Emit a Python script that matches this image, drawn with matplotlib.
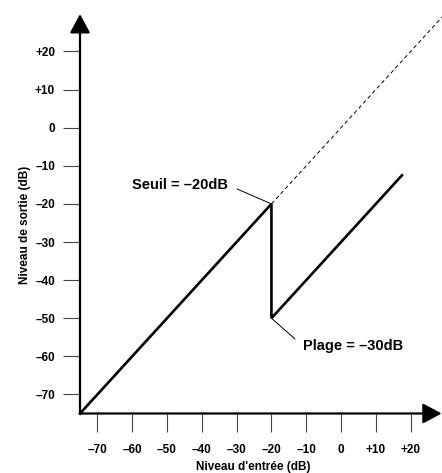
import matplotlib.pyplot as plt

plt.rcParams['font.family'] = ['Liberation Sans', 'DejaVu Sans']
plt.rcParams['font.weight'] = 'bold'

# Transfer curve of the gate (input level -> output level, dB)
curve_in = [-75, -20, -20, 17.5]
curve_out = [-75, -20, -50, -12.5]

# Unity line above threshold (dashed)
unity_in = [-20, 30]
unity_out = [-20, 30]

threshold = -20
gate_range = -30

x_ticks = [-70, -60, -50, -40, -30, -20, -10, 0, 10, 20]
y_ticks = [-70, -60, -50, -40, -30, -20, -10, 0, 10, 20]


def fmt(v):
    if v > 0:
        return '+%d' % v
    if v < 0:
        return '\u2013%d' % abs(v)
    return '0'


fig = plt.figure(figsize=(4.42, 4.73), dpi=100)
ax = fig.add_axes([80 / 442, 59.5 / 473, 362 / 442, 413.5 / 473])

ax.plot(curve_in, curve_out, color='black', lw=1.9, solid_joinstyle='miter',
        clip_on=False, zorder=3)
ax.plot(unity_in, unity_out, color='black', lw=0.7, dashes=(4, 3), zorder=2)

ax.set_xlim(-75, 29.0)
ax.set_ylim(-75, 33.5)

for s in ax.spines.values():
    s.set_visible(False)

# axes with arrow heads
arrow = dict(arrowstyle='-|>,head_length=0.82,head_width=0.44',
             mutation_scale=14, lw=1.6, color='black', shrinkA=0, shrinkB=0)
ax.annotate('', xy=(0.999, 0), xytext=(0, 0), xycoords='axes fraction',
            arrowprops=arrow, annotation_clip=False)
ax.annotate('', xy=(0, 0.966), xytext=(0, 0), xycoords='axes fraction',
            arrowprops=arrow, annotation_clip=False)

ax.set_xticks(x_ticks)
ax.set_xticklabels([fmt(v) for v in x_ticks])
ax.set_yticks(y_ticks)
ax.set_yticklabels([fmt(v) for v in y_ticks])
ax.tick_params(axis='x', direction='out', length=13, width=0.8, color='#444444',
               pad=9, labelsize=8.5)
ax.tick_params(axis='y', direction='out', length=12, width=0.8, color='#444444',
               pad=6, labelsize=8.5)

ax.set_xlabel("Niveau d'entrée (dB)", fontsize=8.5, fontweight='bold')
ax.set_ylabel('Niveau de sortie (dB)', fontsize=8.5, fontweight='bold')
ax.xaxis.set_label_coords(0.478, -0.129)
ax.xaxis.label.set_va('center')
ax.yaxis.set_label_coords(-0.152, 0.456)
ax.yaxis.label.set_va('center')

ax.annotate('Seuil = \u2013%ddB' % abs(threshold), xy=(threshold, threshold),
            xytext=(-31.3, 13.6), textcoords='offset points',
            ha='right', va='center', fontsize=10.5, fontweight='bold',
            arrowprops=dict(arrowstyle='-', lw=0.7, color='black',
                            relpos=(1, 0.5), shrinkA=5, shrinkB=0))
ax.annotate('Plage = \u2013%ddB' % abs(gate_range),
            xy=(threshold, threshold + gate_range),
            xytext=(22.7, -20), textcoords='offset points',
            ha='left', va='center', fontsize=10.5, fontweight='bold',
            arrowprops=dict(arrowstyle='-', lw=0.7, color='black',
                            relpos=(0, 0.5), shrinkA=5, shrinkB=0))

fig.savefig('out.png', dpi=100)
